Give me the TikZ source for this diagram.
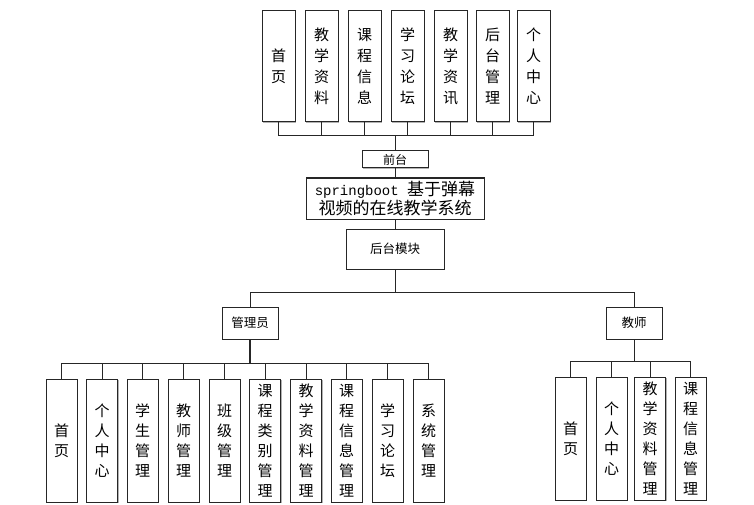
\documentclass[tikz,border=0pt]{standalone}
\usepackage{fontspec}
\newfontfamily\cjk{Noto Sans CJK SC}
\newfontfamily\mono{Liberation Mono}
\usepackage{tikz}
\usetikzlibrary{shadows}

\begin{document}
\begin{tikzpicture}[x=1pt, y=-1pt]
		\tikzstyle{Box}		= [rectangle, draw=black!85, line width=1pt, fill=white, inner sep=0pt, align=center, font=\cjk,
		                        drop shadow={shadow xshift=1pt, shadow yshift=-1pt, fill=black!30, opacity=1}]
		\tikzstyle{Top}		= [minimum width=33pt, minimum height=111pt, font={\cjk\fontsize{15}{21}\selectfont}]
		\tikzstyle{Leaf}	= [minimum width=31pt, minimum height=123pt, font={\cjk\fontsize{15}{20}\selectfont}]
		\tikzstyle{Role}	= [minimum width=56pt, minimum height=32pt, font={\cjk\fontsize{12.5}{14}\selectfont}]
		\tikzstyle{Link}	= [black!85, line width=1pt]

		\useasboundingbox (0,0) rectangle (754,505);

		% front end
		\node (t1) at (278.5, 66.5) [Box][Top] {首\\页};
		\node (t2) at (321.5, 66.5) [Box][Top] {教\\学\\资\\料};
		\node (t3) at (364.5, 66.5) [Box][Top] {课\\程\\信\\息};
		\node (t4) at (407.5, 66.5) [Box][Top] {学\\习\\论\\坛};
		\node (t5) at (450.5, 66.5) [Box][Top] {教\\学\\资\\讯};
		\node (t6) at (492.5, 66.5) [Box][Top] {后\\台\\管\\理};
		\node (t7) at (533.5, 66.5) [Box][Top] {个\\人\\中\\心};

		\node (qt) at (395, 159.5) [Box, minimum width=66pt, minimum height=17pt, font={\cjk\fontsize{12}{14}\selectfont}] {前台};
		\node (sys) at (395, 198.5) [Box, minimum width=178pt, minimum height=41pt, font={\cjk\fontsize{17}{19.5}\selectfont}]
			{{\mono\fontsize{14}{19.5}\selectfont springboot }基于弹幕\\视频的在线教学系统};
		\node (ht) at (395, 249) [Box, minimum width=98pt, minimum height=40pt, font={\cjk\fontsize{12.5}{14}\selectfont}] {后台模块};

		% roles
		\node (gly) at (250, 323) [Box][Role] {管理员};
		\node (js) at (634, 323) [Box][Role] {教师};

		% admin
		\node (a1) at (61.5, 440.5) [Box][Leaf] {首\\页};
		\node (a2) at (102, 440.5) [Box][Leaf] {个\\人\\中\\心};
		\node (a3) at (142.5, 440.5) [Box][Leaf] {学\\生\\管\\理};
		\node (a4) at (183.5, 440.5) [Box][Leaf] {教\\师\\管\\理};
		\node (a5) at (224.5, 440.5) [Box][Leaf] {班\\级\\管\\理};
		\node (a6) at (265, 440.5) [Box][Leaf] {课\\程\\类\\别\\管\\理};
		\node (a7) at (306, 440.5) [Box][Leaf] {教\\学\\资\\料\\管\\理};
		\node (a8) at (346.5, 440.5) [Box][Leaf] {课\\程\\信\\息\\管\\理};
		\node (a9) at (387.5, 440.5) [Box][Leaf] {学\\习\\论\\坛};
		\node (a10) at (428.5, 440.5) [Box][Leaf] {系\\统\\管\\理};

		% teacher
		\node (j1) at (570.5, 438.5) [Box][Leaf] {首\\页};
		\node (j2) at (611.5, 438.5) [Box][Leaf] {个\\人\\中\\心};
		\node (j3) at (650, 438.5) [Box][Leaf] {教\\学\\资\\料\\管\\理};
		\node (j4) at (690.5, 438.5) [Box][Leaf] {课\\程\\信\\息\\管\\理};

		\coordinate (topbus) at (395, 136);
		\coordinate (mainbus) at (395, 292);
		\coordinate (glybus) at (250, 363);
		\coordinate (jsbus) at (634, 361);

		\foreach \t in {t1,t2,t3,t4,t5,t6,t7}
			\draw [Link] (\t.south) |- (topbus);
		\draw [Link] (topbus) -- (qt.north);
		\draw [Link] (qt.south) -- (sys.north);
		\draw [Link] (sys.south) -- (ht.north);
		\draw [Link] (ht.south) -- (mainbus);
		\draw [Link] (gly.north) |- (mainbus);
		\draw [Link] (js.north) |- (mainbus);

		\draw [Link, line width=1.6pt] (gly.south) -- (glybus);
		\foreach \a in {a1,a2,a3,a4,a5,a6,a7,a8,a9,a10}
			\draw [Link] (\a.north) |- (glybus);
		\draw [Link] (js.south) -- (jsbus);
		\foreach \j in {j1,j2,j3,j4}
			\draw [Link] (\j.north) |- (jsbus);
	\end{tikzpicture}
\end{document}
